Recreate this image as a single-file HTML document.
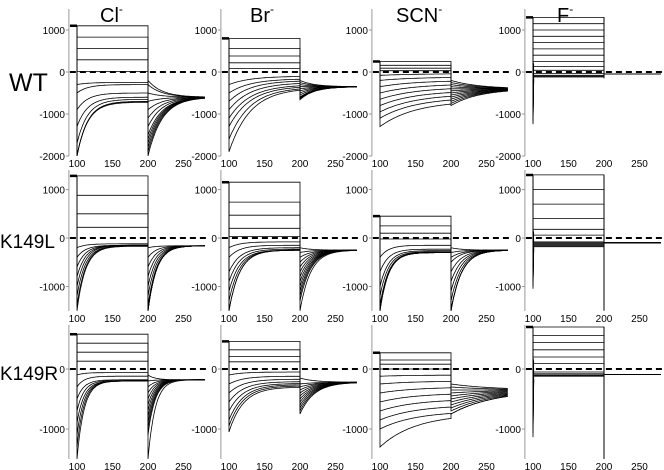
<!DOCTYPE html>
<html><head><meta charset="utf-8">
<style>
html,body{margin:0;padding:0;background:#fff;}
svg{display:block;font-family:"Liberation Sans",sans-serif;}
</style></head>
<body>
<svg id="fig" width="664" height="470" viewBox="0 0 664 470">
<g font-size="20">
<text x="100" y="22">Cl<tspan dy="-9" font-size="12">-</tspan></text>
<text x="250" y="22">Br<tspan dy="-9" font-size="12">-</tspan></text>
<text x="396" y="22">SCN<tspan dy="-9" font-size="12">-</tspan></text>
<text x="557" y="22">F<tspan dy="-9" font-size="12">-</tspan></text>
</g>
<g>
<text x="9" y="91" font-size="25">WT</text>
<text x="0" y="248" font-size="19">K149L</text>
<text x="0" y="380" font-size="19">K149R</text>
</g>
</svg>
<script>
const colX100 = [77, 229, 380, 533];
const rows = [
  {y0:72, k:0.042, top:9, bottom:156, ticks:[1000,0,-1000,-2000]},
  {y0:238, k:0.0485, top:170, bottom:311, ticks:[1000,0,-1000]},
  {y0:369, k:0.06, top:325, bottom:459, ticks:[0,-1000]}
];
const xTicks = [100,150,200,250];

const wtClSteady = [1100,830,560,290,10,-250,-300,-500,-600,-650,-700,-700,-720];
const wtClInit = [1100,830,560,290,10,-300,-500,-900,-1300,-1700,-2000,-2000,-2000];
const wtClTail = [-200,-300,-500,-700,-900,-1100,-1300,-1500,-1700,-1900,-2000,-1800,-1600];
const wtBrSteady = [800,560,380,220,80,-100,-160,-200,-250,-300,-330,-360,-380];
const wtBrInit = [800,560,380,220,80,-300,-500,-700,-900,-1100,-1300,-1600,-1900];
const wtBrTail = [-200,-250,-300,-350,-400,-450,-500,-550,-600,-600,-620,-640,-660];
const wtScnSteady = [250,160,90,30,-40,-120,-200,-280,-360,-440,-520,-600,-680];
const wtScnInit = [250,160,90,30,-80,-200,-350,-500,-650,-800,-950,-1100,-1300];
const wtScnTail = [-200,-250,-300,-350,-400,-450,-500,-550,-600,-650,-700,-750,-800];
const wtFSteady = [1300,1150,1000,850,700,550,400,250,130,40,-40,-80,-100,-120];
const lClSteady = [1280,880,500,220,-120,-150,-150,-150,-150,-160,-160,-170];
const lClInit = [1280,880,500,220,-200,-400,-600,-800,-1000,-1200,-1400,-1500];
const lClTail = [-200,-400,-600,-800,-1000,-1200,-1400,-1500,-1500,-1500,-1500,-1500];
const lBrSteady = [1150,740,470,200,30,-80,-150,-200,-230,-250,-250,-250,-250];
const lBrInit = [1150,740,470,200,30,-200,-400,-700,-900,-1100,-1300,-1500,-1500];
const lBrTail = [-200,-300,-400,-500,-600,-700,-800,-900,-1000,-1100,-1200,-1300,-1500];
const lScnSteady = [450,250,100,-20,-150,-230,-260,-280,-290,-300,-300,-300];
const lScnInit = [450,250,100,-20,-400,-700,-1000,-1200,-1400,-1500,-1500,-1500];
const lScnTail = [-200,-300,-400,-500,-700,-900,-1100,-1300,-1500,-1500,-1500,-1500];
const lFSteady = [1300,1000,700,400,180,60,-80,-100,-120,-140,-160,-180];
const rClSteady = [580,430,280,130,-60,-120,-180,-190,-200,-200,-200,-200];
const rClInit = [580,430,280,130,-100,-300,-500,-700,-900,-1100,-1300,-1500];
const rClTail = [-100,-200,-300,-400,-500,-600,-700,-800,-900,-1000,-1100,-1500];
const rBrSteady = [460,320,210,120,-50,-120,-170,-210,-240,-260,-280,-300];
const rBrInit = [460,320,210,120,-100,-250,-400,-550,-700,-850,-950,-1050];
const rBrTail = [-150,-250,-300,-350,-400,-450,-500,-550,-600,-650,-700,-750];
const rScnSteady = [270,150,80,0,-100,-200,-300,-400,-500,-600,-700,-750];
const rScnInit = [270,150,80,0,-120,-250,-400,-550,-700,-850,-1000,-1300];
const rScnTail = [-250,-300,-350,-400,-450,-500,-550,-600,-650,-700,-750,-750];
const rFSteady = [700,560,440,320,200,90,-50,-80,-100,-110,-120];

const panels = [
 {r:0,c:0,name:'wt-cl',steady:wtClSteady,init:wtClInit,tail:wtClTail,end:-600,tau:15,ttau:20},
 {r:0,c:1,name:'wt-br',steady:wtBrSteady,init:wtBrInit,tail:wtBrTail,end:-350,tau:30,ttau:20},
 {r:0,c:2,name:'wt-scn',steady:wtScnSteady,init:wtScnInit,tail:wtScnTail,end:-400,tau:50,ttau:40},
 {r:0,c:3,name:'wt-f',steady:wtFSteady,init:wtFSteady,tail:null,end:-50,tau:5,ttau:0.5,spike:-1300,tailSpike:-150},
 {r:1,c:0,name:'k149l-cl',steady:lClSteady,init:lClInit,tail:lClTail,end:-160,tau:12,ttau:12},
 {r:1,c:1,name:'k149l-br',steady:lBrSteady,init:lBrInit,tail:lBrTail,end:-250,tau:15,ttau:15},
 {r:1,c:2,name:'k149l-scn',steady:lScnSteady,init:lScnInit,tail:lScnTail,end:-250,tau:12,ttau:15},
 {r:1,c:3,name:'k149l-f',steady:lFSteady,init:lFSteady,tail:null,end:-100,tau:5,ttau:0.5,spike:-1100,tailSpike:-1500},
 {r:2,c:0,name:'k149r-cl',steady:rClSteady,init:rClInit,tail:rClTail,end:-180,tau:10,ttau:10},
 {r:2,c:1,name:'k149r-br',steady:rBrSteady,init:rBrInit,tail:rBrTail,end:-220,tau:20,ttau:20},
 {r:2,c:2,name:'k149r-scn',steady:rScnSteady,init:rScnInit,tail:rScnTail,end:-350,tau:50,ttau:60},
 {r:2,c:3,name:'k149r-f',steady:rFSteady,init:rFSteady,tail:null,end:-90,tau:5,ttau:0.5,spike:-1200,tailSpike:-1500}
];

const NS = 'http://www.w3.org/2000/svg';
const svg = document.getElementById('fig');
function mk(tag, attrs, parent){const e=document.createElementNS(NS,tag);for(const a in attrs)e.setAttribute(a,attrs[a]);(parent||svg).appendChild(e);return e;}

panels.forEach((p,pi)=>{
  const row = rows[p.r];
  const xs = t => colX100[p.c] + (t-100)*0.71;
  const ys = v => row.y0 - v*row.k;
  const g = mk('g',{});
  
  
  const cp = mk('clipPath',{id:'cp'+pi},g);
  mk('rect',{x:xs(90),y:row.top,width:xs(282)-xs(90),height:row.bottom-row.top},cp);
  const ax = mk('line',{x1:xs(90)-1,x2:xs(90)-1,y1:row.top,y2:row.bottom,stroke:'#999','stroke-width':1},g);
  
  
  row.ticks.forEach(t=>{
    mk('line',{x1:xs(90)-4,x2:xs(90)-1,y1:ys(t),y2:ys(t),stroke:'#999'},g);
    const tx = mk('text',{x:xs(90)-5,y:ys(t)+4,'font-size':10,'text-anchor':'end'},g);
    tx.textContent = t;
    
    
  });
  xTicks.forEach(t=>{
    const tx = mk('text',{x:xs(t),y:row.bottom+11,'font-size':10,'text-anchor':'middle'},g);
    tx.textContent = t;
    
    
  });
  const tg = mk('g',{'clip-path':'url(#cp'+pi+')',fill:'none',stroke:'#000','stroke-width':0.8},g);
  
  
  const pre = p.steady[0];
  mk('line',{x1:xs(90),x2:xs(100),y1:ys(pre),y2:ys(pre),'stroke-width':2.5},tg);
  if(p.tailSpike!==undefined){
    mk('line',{x1:xs(200),x2:xs(200),y1:ys(pre),y2:ys(p.tailSpike),'stroke-width':1},tg);
  }
  p.steady.forEach((s,i)=>{
    const i0 = p.init[i];
    let pts = [[xs(100),ys(pre)]];
    if(p.spike!==undefined && s<300){ pts.push([xs(100),ys(p.spike*(0.4+0.6*i/p.steady.length))]); pts.push([xs(101),ys(s-80)]); }
    for(let t=100;t<=200;t+=1){
      const v = s + (i0-s)*Math.exp(-(t-100)/p.tau);
      pts.push([xs(t),ys(v)]);
    }
    const t0 = p.tail ? p.tail[i] : p.end;
    pts.push([xs(200),ys(t0)]);
    for(let t=200;t<=280;t+=1){
      const v = p.end + (t0-p.end)*Math.exp(-(t-200)/p.ttau);
      pts.push([xs(t),ys(v)]);
    }
    const pl = mk('polyline',{points:pts.map(q=>q[0].toFixed(1)+','+q[1].toFixed(1)).join(' ')},tg);
    
    
  });
  const z = mk('line',{x1:xs(90),x2:xs(282),y1:ys(0),y2:ys(0),stroke:'#000','stroke-width':2,'stroke-dasharray':'6,4'},g);
  
  
});
</script>
</body></html>
